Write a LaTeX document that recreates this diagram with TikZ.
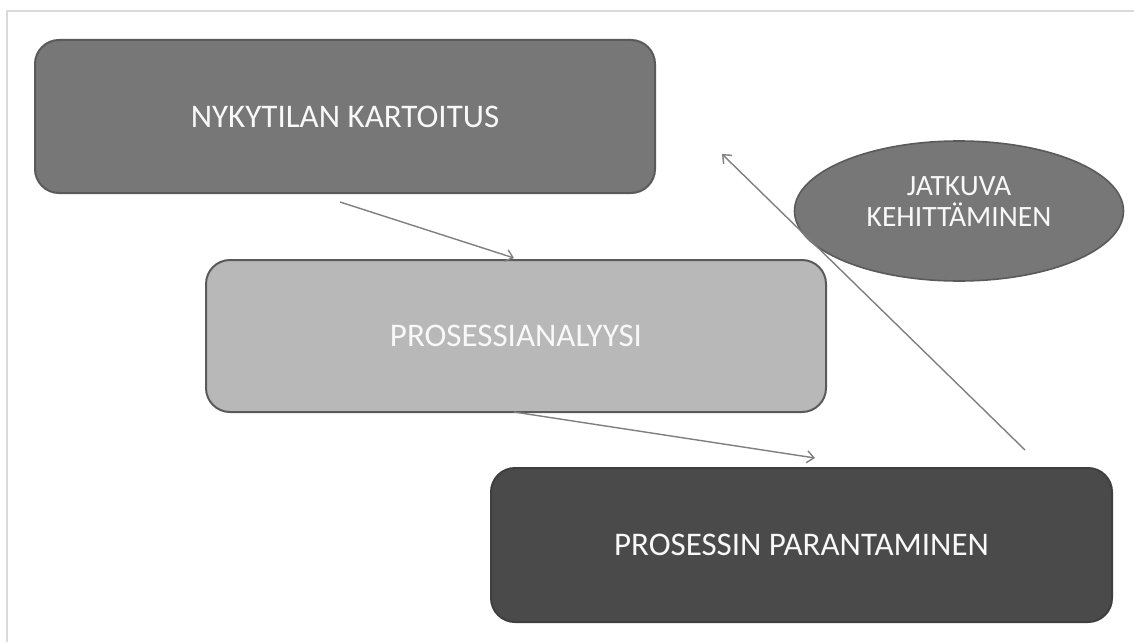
\documentclass[tikz,border=0pt]{standalone}
\usepackage{fontspec}
\setmainfont{Carlito}
\usetikzlibrary{shapes.geometric,arrows.meta}
\definecolor{boxa}{HTML}{777777}
\definecolor{boxb}{HTML}{B8B8B8}
\definecolor{boxc}{HTML}{4A4A4A}
\definecolor{edge}{HTML}{5A5A5A}
\definecolor{arr}{HTML}{7F7F7F}
\definecolor{frame}{HTML}{DADADA}
\definecolor{txt}{HTML}{F8F8F8}
\tikzset{
  x=1pt, y=-1pt,
  procbox/.style={rounded corners=24pt, draw=edge, line width=2pt, text=txt,
    font=\fontsize{33}{38}\selectfont, inner sep=0pt},
  flow/.style={draw=arr, line width=1.4pt, -{Straight Barb[length=7pt,width=12pt,line width=1.4pt]}},
}
\begin{document}
\begin{tikzpicture}
\useasboundingbox (0,0) rectangle (1134,642);
\draw[frame, line width=1.5pt] (7,642) -- (7,11) -- (1134,11);
\node[procbox, fill=boxa, minimum width=620pt, minimum height=153pt] (a) at (345,116.5) {NYKYTILAN KARTOITUS};
\node[procbox, fill=boxb, minimum width=620pt, minimum height=152pt] (b) at (516,336) {PROSESSIANALYYSI};
\node[procbox, fill=boxc, draw=boxc!85!black, minimum width=621pt, minimum height=154pt] (c) at (801.5,545) {PROSESSIN PARANTAMINEN};
\node[ellipse, draw=edge, line width=1.6pt, fill=boxa, minimum width=329pt, minimum height=140pt, inner sep=0pt,
  text=txt, align=center, text depth=19pt, font=\fontsize{29.5}{32}\selectfont] (d) at (959,211) {JATKUVA\\[-1pt]KEHITTÄMINEN};
\coordinate (a1) at (340,202);
\coordinate (b0) at (514,258);
\coordinate (b1) at (514,412);
\coordinate (c0) at (815,458);
\coordinate (c1) at (1025,450);
\coordinate (a2) at (722,154);
\draw[flow] (a1) -- (b0);
\draw[flow] (b1) -- (c0);
\draw[flow] (c1) -- (a2);
\end{tikzpicture}
\end{document}
